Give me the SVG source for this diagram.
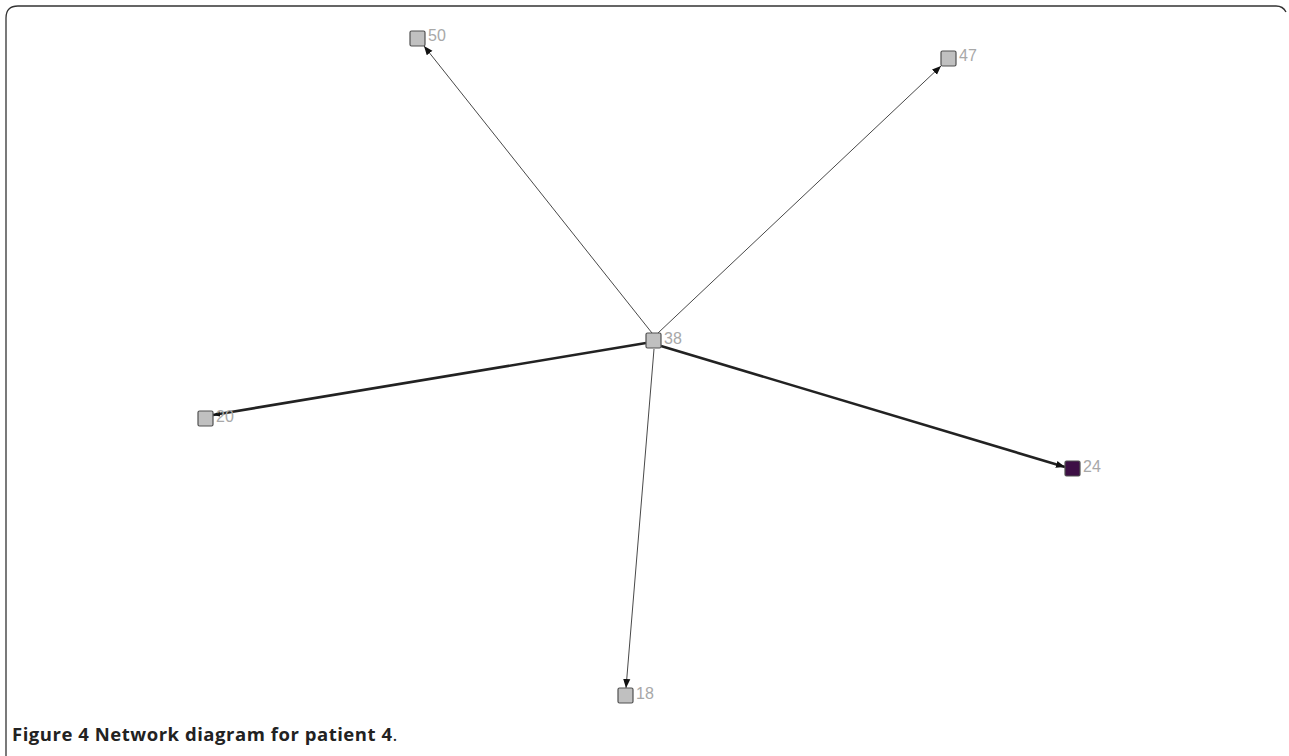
<svg xmlns="http://www.w3.org/2000/svg" width="1289" height="756" viewBox="0 0 1289 756">
<style>
.node rect{fill:#c0c0c0;stroke:#505050;stroke-width:1.2}
.node text{font-family:"Liberation Sans",Arial,sans-serif;font-size:16px;fill:#a8a8a8}
.thin{stroke:#333;stroke-width:0.9;fill:none}
.thick{stroke:#222;stroke-width:2.6;fill:none}
.cap{font-family:"Open Sans","Liberation Sans",sans-serif;font-size:18.5px;fill:#222}
</style>
<defs>
<marker id="a" viewBox="0 0 10 10" refX="10" refY="5" markerWidth="9" markerHeight="9" markerUnits="userSpaceOnUse" orient="auto"><path d="M0,1 L10,5 L0,9 z" fill="#111"/></marker>
<marker id="b" viewBox="0 0 10 10" refX="10" refY="5" markerWidth="7" markerHeight="7" markerUnits="userSpaceOnUse" orient="auto"><path d="M0,1 L10,5 L0,9 z" fill="#111"/></marker>
</defs>
<rect width="1289" height="756" fill="#fff"/>
<path d="M6,756 L6,18 Q6,6 18,6 L1276,6 Q1283,6 1286,12" fill="none" stroke="#333" stroke-width="1.3"/>
<g id="connectors">
<line class="thin" x1="652" y1="333" x2="424" y2="46" marker-end="url(#a)"/>
<line class="thin" x1="658" y1="333" x2="941" y2="66" marker-end="url(#a)"/>
<line class="thin" x1="654" y1="349" x2="626" y2="688" marker-end="url(#a)"/>
<line class="thick" x1="661" y1="346" x2="1065" y2="467" marker-end="url(#a)"/>
<line class="thick" x1="646" y1="343" x2="213" y2="415" marker-end="url(#b)"/>
</g>
<g id="n50" class="node"><rect x="410" y="31" width="15" height="15" rx="1.5"/><text x="428" y="41">50</text></g>
<g id="n47" class="node"><rect x="941" y="51" width="15" height="15" rx="1.5"/><text x="959" y="61">47</text></g>
<g id="n38" class="node"><rect x="646" y="333" width="15" height="15" rx="1.5"/><text x="664" y="344">38</text></g>
<g id="n20" class="node"><rect x="198" y="411" width="15" height="15" rx="1.5"/><text x="216" y="422">20</text></g>
<g id="n24" class="node"><rect x="1065" y="461" width="15" height="15" rx="1.5" style="fill:#3d0f45"/><text x="1083" y="472">24</text></g>
<g id="n18" class="node"><rect x="618" y="688" width="15" height="15" rx="1.5"/><text x="636" y="699">18</text></g>
<text class="cap" x="12" y="741"><tspan font-weight="bold" textLength="380" lengthAdjust="spacing">Figure 4 Network diagram for patient 4</tspan>.</text>
</svg>
